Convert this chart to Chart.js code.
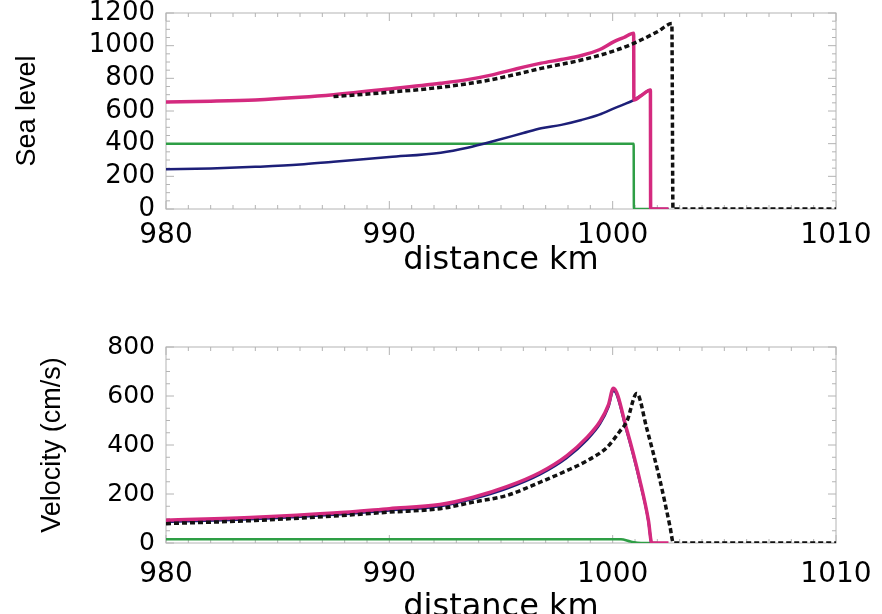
<!DOCTYPE html>
<html>
<head>
<meta charset="utf-8">
<script src="https://cdn.jsdelivr.net/npm/chart.js@4.4.0/dist/chart.umd.min.js"></script>
<style>
  html, body { margin: 0; padding: 0; background: #fff; overflow: hidden; }
  #wrap { position: relative; width: 882px; height: 614px; }
  #sea { position: absolute; left: 0; top: 0; }
  #vel { position: absolute; left: 0; top: 300px; }
</style>
</head>
<body>
<div id="wrap">
  <canvas id="sea" width="882" height="290"></canvas>
  <canvas id="vel" width="882" height="330"></canvas>
</div>
<script>
// sea level panel
const seaTotalX = [980, 982, 984, 986, 987.5, 990, 992.3, 993.5, 994.5, 995.5, 996.8, 997.7, 998.6, 999.4, 1000.06, 1000.5, 1000.94, 1000.95, 1001.3, 1001.69, 1001.7, 1002.5];
const seaTotalY = [655, 660, 668, 684, 700, 735, 770, 792, 818, 852, 893, 915, 940, 975, 1025, 1050, 1076, 667, 697, 729, 0, 0];

const seaLevelX = [980, 982, 984, 986, 987.5, 990, 992.3, 993.5, 994.85, 996, 996.8, 997.7, 998.6, 999.4, 1000.06, 1000.5, 1000.94, 1001.3, 1001.69, 1001.7, 1002.5];
const seaLevelY = [243, 248, 258, 272, 290, 318, 345, 375, 422, 465, 494, 515, 545, 578, 616, 640, 667, 697, 729, 0, 0];

const seaDepthX = [980, 1000.94, 1000.95, 1002];
const seaDepthY = [400, 400, 0, 0];

const seaRefX = [987.5, 990, 992.3, 994.5, 996, 996.8, 998.6, 1000, 1000.94, 1002, 1002.65, 1002.7, 1010];
const seaRefY = [688, 715, 745, 790, 835, 861, 912, 965, 1014, 1085, 1135, 0, 0];

// velocity panel
const velTotalX = [980, 984, 987.5, 990, 992.27, 993.76, 995.26, 996.75, 997.94, 998.84, 999.44, 999.81, 1000.03, 1000.63, 1001.22, 1001.6, 1001.75, 1002.5];
const velTotalY = [93, 105, 122, 140, 157, 187, 230, 288, 356, 430, 497, 564, 632, 463, 255, 93, 0, 0];

const velLevelX = [980, 984, 987.5, 990, 992.27, 993.76, 995.26, 996.75, 997.94, 998.84, 999.44, 999.81, 1000.03, 1000.63, 1001.22, 1001.6, 1001.72];
const velLevelY = [86, 98, 115, 133, 150, 180, 222, 280, 347, 420, 487, 555, 622, 455, 248, 88, 0];

const velDepthX = [980, 1000.37, 1000.8, 1001.27, 1002];
const velDepthY = [15, 15, 6, 0, 0];

const velRefX = [980, 984, 987.5, 990, 992.27, 993.76, 995.26, 996.75, 997.94, 998.84, 999.73, 1000.33, 1000.63, 1001.08, 1001.52, 1002.12, 1002.57, 1002.72, 1010];
const velRefY = [79, 92, 110, 126, 140, 167, 194, 248, 295, 335, 389, 457, 495, 610, 470, 255, 66, 0, 0];

const xTicks = [980, 990, 1000, 1010];

const PINK = '#d42a7f';
const NAVY = '#1d1f78';
const GREEN = '#2e9e45';
const BLACK = '#111111';

function pts(xs, ys) {
  return xs.map((x, i) => ({ x: x, y: ys[i] }));
}

// box with small inward ticks, IDL style
const frameTicks = {
  id: 'frameTicks',
  beforeDatasetsDraw(chart) {
    const { ctx, chartArea: a, scales: { x, y } } = chart;
    ctx.save();
    ctx.strokeStyle = '#b4b4b4';
    ctx.lineWidth = 1;
    ctx.strokeRect(a.left, a.top, a.right - a.left, a.bottom - a.top);
    ctx.beginPath();
    for (let v = x.min; v <= x.max; v += 1) {
      const px = x.getPixelForValue(v);
      const len = v % 10 === 0 ? 8 : 4;
      ctx.moveTo(px, a.bottom); ctx.lineTo(px, a.bottom - len);
      ctx.moveTo(px, a.top); ctx.lineTo(px, a.top + len);
    }
    for (let v = y.min; v <= y.max; v += 50) {
      const py = y.getPixelForValue(v);
      const len = v % 200 === 0 ? 8 : 4;
      ctx.moveTo(a.left, py); ctx.lineTo(a.left + len, py);
      ctx.moveTo(a.right, py); ctx.lineTo(a.right - len, py);
    }
    ctx.stroke();
    ctx.restore();
  }
};

function makePanel(canvasId, opts) {
  return new Chart(document.getElementById(canvasId).getContext('2d'), {
    type: 'line',
    data: {
      datasets: [
        { data: pts(opts.refX, opts.refY), borderColor: BLACK, borderWidth: 3.5, borderDash: [5, 3], order: 0 },
        { data: pts(opts.totalX, opts.totalY), borderColor: PINK, borderWidth: 3.5, order: 1 },
        { data: pts(opts.levelX, opts.levelY), borderColor: NAVY, borderWidth: 2.5, order: 2 },
        { data: pts(opts.depthX, opts.depthY), borderColor: GREEN, borderWidth: 2.5, order: 3 }
      ]
    },
    options: {
      responsive: false,
      animation: false,
      parsing: false,
      elements: { point: { radius: 0 }, line: { cubicInterpolationMode: 'monotone', fill: false } },
      layout: { padding: opts.padding },
      plugins: { legend: { display: false }, tooltip: { enabled: false } },
      scales: {
        x: {
          type: 'linear',
          min: 980, max: 1010,
          afterBuildTicks: (s) => { s.ticks = xTicks.map(v => ({ value: v })); },
          afterFit: (s) => { s.height = opts.xHeight; s.paddingLeft = 0; s.paddingRight = 0; },
          grid: { display: false, drawTicks: false },
          border: { display: false },
          ticks: { color: '#000', padding: opts.xPad, maxRotation: 0, callback: (v) => String(v),
                   font: { family: 'DejaVu Sans', size: 28 } },
          title: { display: true, text: 'distance km', color: '#000', padding: 0, font: { family: 'DejaVu Sans', size: 32 } }
        },
        y: {
          min: 0, max: opts.yMax,
          afterFit: (s) => { s.width = 166; s.paddingTop = 0; s.paddingBottom = 0; },
          grid: { display: false, drawTicks: false },
          border: { display: false },
          ticks: { stepSize: 200, autoSkip: false, color: '#000', padding: 11, callback: (v) => String(v),
                   font: { family: 'DejaVu Sans', size: opts.yFont } },
          title: { display: true, text: opts.yTitle, color: '#000', padding: { top: opts.yTitlePad, bottom: 0 }, font: { family: 'Liberation Sans', size: 27 } }
        }
      }
    },
    plugins: [frameTicks]
  });
}

makePanel('sea', {
  refX: seaRefX, refY: seaRefY,
  totalX: seaTotalX, totalY: seaTotalY,
  levelX: seaLevelX, levelY: seaLevelY,
  depthX: seaDepthX, depthY: seaDepthY,
  yMax: 1200, yFont: 26, yTitle: 'Sea level', yTitlePad: 11,
  padding: { top: 13, right: 46, bottom: 10, left: 0 },
  xHeight: 71, xPad: 10
});

makePanel('vel', {
  refX: velRefX, refY: velRefY,
  totalX: velTotalX, totalY: velTotalY,
  levelX: velLevelX, levelY: velLevelY,
  depthX: velDepthX, depthY: velDepthY,
  yMax: 800, yFont: 25, yTitle: 'Velocity (cm/s)', yTitlePad: 36,
  padding: { top: 47, right: 46, bottom: 3, left: 0 },
  xHeight: 84, xPad: 15
});
</script>
</body>
</html>
